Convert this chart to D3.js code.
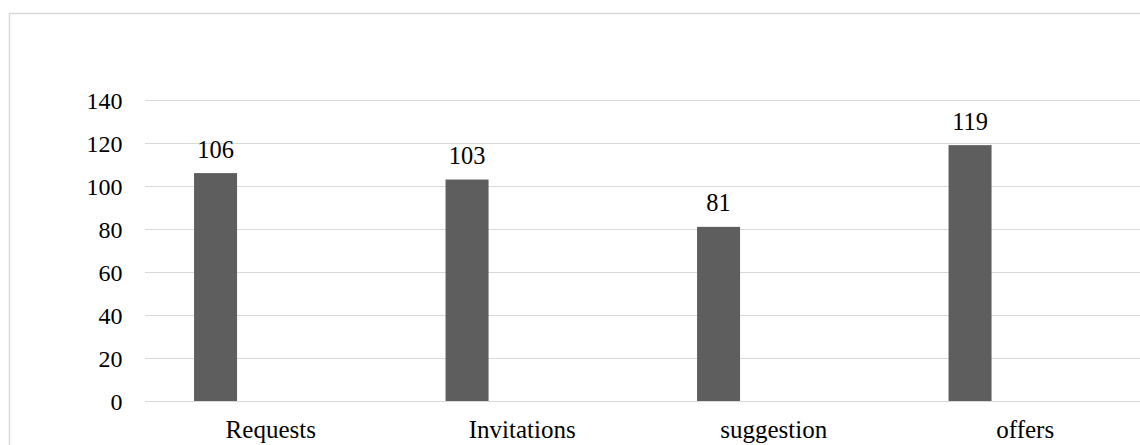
<!DOCTYPE html>
<html><head><meta charset="utf-8">
<script src="https://cdn.jsdelivr.net/npm/d3@7"></script>
<style>html,body{margin:0;padding:0;background:#fff;}svg{display:block;}
svg text{font-family:"Liberation Serif","Times New Roman",Tinos,"DejaVu Serif",serif;}</style>
</head><body>
<svg id="c" width="1140" height="445"></svg>
<script>
const categories = ["Requests", "Invitations", "suggestion", "offers"];
const values = [106, 103, 81, 119];
const yTicks = [0, 20, 40, 60, 80, 100, 120, 140];

const svg = d3.select("#c");

// outer chart border (cropped on right/bottom)
svg.append("rect").attr("x", 9.5).attr("y", 13.5).attr("width", 1200).attr("height", 500)
  .attr("fill", "#fff").attr("stroke", "#d9d9d9").attr("stroke-width", 1.5);

const x = d3.scaleBand().domain(categories).range([145, 1151]).paddingInner(0).paddingOuter(0);
const y = d3.scaleLinear().domain([0, 140]).range([401, 100]);

// grid
svg.append("g").selectAll("line").data(yTicks).join("line")
  .attr("x1", 145).attr("x2", 1140)
  .attr("y1", d => Math.round(y(d)) + 0.5).attr("y2", d => Math.round(y(d)) + 0.5)
  .attr("stroke", "#d9d9d9").attr("stroke-width", 1.2);

// y labels
svg.append("g").selectAll("text").data(yTicks).join("text")
  .attr("x", 122.5).attr("y", d => y(d) + 8.5)
  .attr("text-anchor", "end").attr("font-size", 24).attr("fill", "#000")
  .text(d => d);

const bw = x.bandwidth();
const barOff = bw * 0.195, barW = bw * 0.171;

svg.append("g").selectAll("rect").data(values).join("rect")
  .attr("x", (d, i) => x(categories[i]) + barOff)
  .attr("y", d => y(d))
  .attr("width", barW)
  .attr("height", d => y(0) - y(d))
  .attr("fill", "#5e5e5e");

svg.append("g").selectAll("text").data(values).join("text")
  .attr("x", (d, i) => x(categories[i]) + barOff + barW / 2)
  .attr("y", d => y(d) - 15.5)
  .attr("text-anchor", "middle").attr("font-size", 24.4).attr("fill", "#000")
  .text(d => d);

// x labels
svg.append("g").selectAll("text").data(categories).join("text")
  .attr("x", d => x(d) + bw / 2).attr("y", 437.5)
  .attr("text-anchor", "middle").attr("font-size", 25).attr("fill", "#000")
  .text(d => d);
</script>
</body></html>
